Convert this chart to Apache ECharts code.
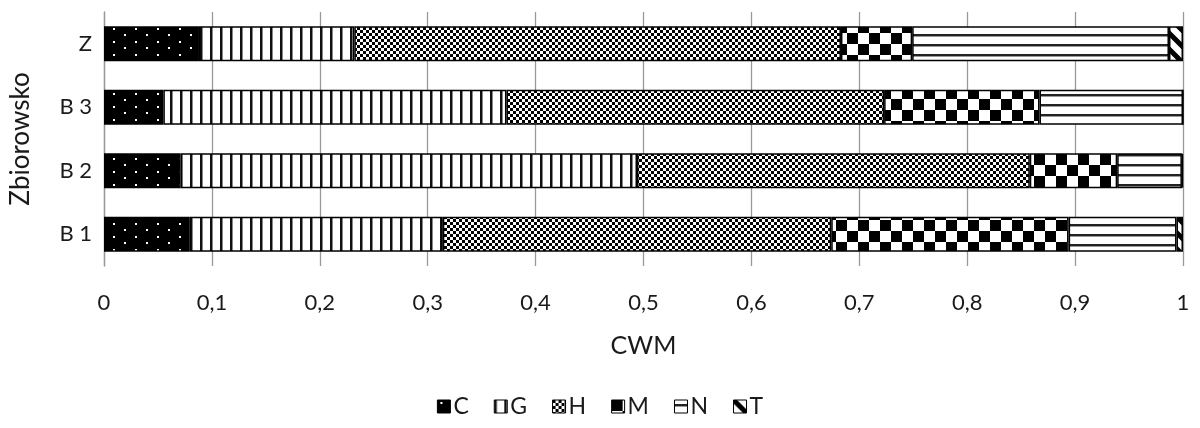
<!DOCTYPE html>
<html>
<head>
<meta charset="utf-8">
<script src="https://cdn.jsdelivr.net/npm/echarts@6/dist/echarts.min.js"></script>
<style>
html,body{margin:0;padding:0;background:#fff}
#chart{width:1200px;height:428px}
</style>
</head>
<body>
<div id="chart"></div>
<script>
// Community weighted means per site, stacked by group
const sites = ['B 1', 'B 2', 'B 3', 'Z'];
const groupNames = ['C', 'G', 'H', 'M', 'N', 'T'];
const valC = [0.079, 0.071, 0.055, 0.088];
const valG = [0.235, 0.423, 0.318, 0.144];
const valH = [0.360, 0.364, 0.350, 0.451];
const valM = [0.220, 0.081, 0.144, 0.066];
const valN = [0.100, 0.060, 0.133, 0.238];
const valT = [0.006, 0.001, 0.000, 0.013];
const xTickLabels = ['0', '0,1', '0,2', '0,3', '0,4', '0,5', '0,6', '0,7', '0,8', '0,9', '1'];

const FONT = 'Lato';
const TEXT = '#1a1a1a';

function tile(w, h, draw) {
  const c = document.createElement('canvas');
  c.width = w; c.height = h;
  const g = c.getContext('2d');
  g.fillStyle = '#fff';
  g.fillRect(0, 0, w, h);
  draw(g, w, h);
  return { image: c, repeat: 'repeat' };
}

// Fill patterns for each group
const patterns = {
  C: tile(22, 13, (g, w, h) => {
    g.fillStyle = '#000'; g.fillRect(0, 0, w, h);
    g.fillStyle = '#fff';
    g.fillRect(3, 2, 2, 2);
    g.fillRect(14, 8, 2, 2);
  }),
  G: tile(10, 4, (g, w, h) => {
    g.fillStyle = '#111'; g.fillRect(0, 0, 2, h);
    g.fillStyle = '#888'; g.fillRect(2, 0, 1, h);
  }),
  H: tile(6, 6, (g) => {
    g.fillStyle = '#000';
    g.fillRect(0, 0, 3, 3);
    g.fillRect(3, 3, 3, 3);
  }),
  M: tile(22, 22, (g) => {
    g.fillStyle = '#000';
    g.fillRect(0, 0, 11, 11);
    g.fillRect(11, 11, 11, 11);
  }),
  N: tile(4, 10, (g, w) => {
    g.fillStyle = '#222'; g.fillRect(0, 4, w, 2);
    g.fillStyle = '#999'; g.fillRect(0, 6, w, 1);
  }),
  T: tile(16, 16, (g) => {
    g.strokeStyle = '#000'; g.lineWidth = 5;
    g.beginPath();
    g.moveTo(-4, -4); g.lineTo(20, 20);
    g.moveTo(-20, -4); g.lineTo(4, 20);
    g.moveTo(12, -4); g.lineTo(36, 20);
    g.stroke();
  })
};

const groupValues = { C: valC, G: valG, H: valH, M: valM, N: valN, T: valT };

const series = groupNames.map(name => ({
  name: name,
  type: 'bar',
  stack: 'cwm',
  barWidth: 35,
  data: groupValues[name],
  itemStyle: { color: patterns[name], borderColor: '#000', borderWidth: 1.5 },
  emphasis: { disabled: true }
}));

const chart = echarts.init(document.getElementById('chart'), null, { renderer: 'canvas' });
chart.setOption({
  animation: false,
  backgroundColor: '#fff',
  grid: { left: 103, right: 17, top: 12, bottom: 162 },
  xAxis: {
    type: 'value',
    min: 0, max: 1, interval: 0.1,
    axisLine: { show: false },
    axisTick: { show: false },
    splitLine: { show: true, lineStyle: { color: '#999', width: 1.3 } },
    axisLabel: {
      margin: 26,
      color: TEXT, fontFamily: FONT, fontSize: 22,
      formatter: (v, i) => xTickLabels[i]
    },
    name: 'CWM',
    nameLocation: 'middle',
    nameGap: 67,
    nameTextStyle: { color: TEXT, fontFamily: FONT, fontSize: 25 }
  },
  yAxis: {
    type: 'category',
    data: sites,
    axisLine: { show: true, lineStyle: { color: '#999', width: 1.3 } },
    axisTick: { show: false },
    axisLabel: { margin: 12, color: TEXT, fontFamily: FONT, fontSize: 22 },
    name: 'Zbiorowsko',
    nameLocation: 'middle',
    nameGap: 70,
    nameTextStyle: { color: TEXT, fontFamily: FONT, fontSize: 26 }
  },
  legend: {
    data: groupNames,
    bottom: 5,
    left: 'center',
    itemWidth: 13,
    itemHeight: 13,
    itemGap: 25,
    icon: 'rect',
    itemStyle: { borderColor: '#000', borderWidth: 1 },
    textStyle: { color: TEXT, fontFamily: FONT, fontSize: 23, padding: [0, 0, 0, -2] }
  },
  series: series
});
</script>
</body>
</html>
